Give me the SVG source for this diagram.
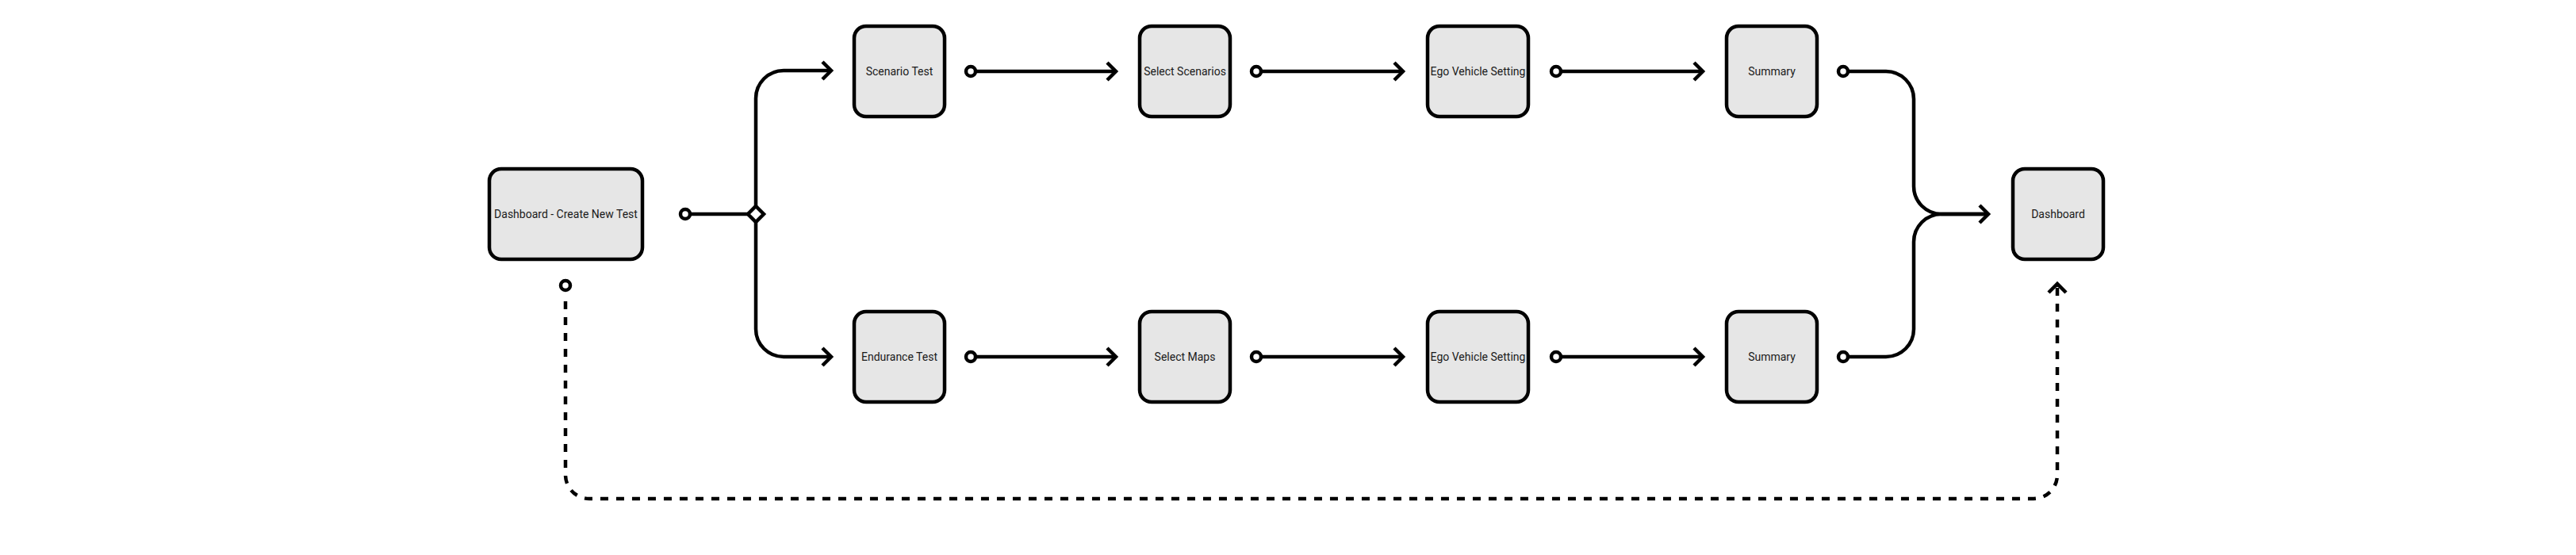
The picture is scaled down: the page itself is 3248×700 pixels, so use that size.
<svg xmlns="http://www.w3.org/2000/svg" width="3248" height="700" viewBox="0 0 3248 700">
<style>
.node rect{fill:#e6e6e6;stroke:#000;stroke-width:4.5}
.node text{font-family:Roboto,"Liberation Sans",sans-serif;font-size:14px;fill:#1a1a1a;text-anchor:middle;dominant-baseline:central}
.edge{fill:none;stroke:#000;stroke-width:4.5}
.dash{stroke-dasharray:10 10}
</style>
<defs>
<marker id="arrow" markerUnits="userSpaceOnUse" viewBox="-16 -16 20 32" markerWidth="20" markerHeight="32" refX="0" refY="0" orient="auto" overflow="visible">
<path d="M-11,-11 L0,0 L-11,11" fill="none" stroke="#000" stroke-width="4.5" stroke-linejoin="miter"/>
</marker>
<marker id="dot" markerUnits="userSpaceOnUse" viewBox="-10 -10 20 20" markerWidth="20" markerHeight="20" refX="0" refY="0" orient="auto" overflow="visible">
<circle r="6" fill="#fff" stroke="#000" stroke-width="4.5"/>
</marker>
</defs>
<g id="connectors">
<path class="edge" d="M864,270 H944" marker-start="url(#dot)"/>
<path class="edge" d="M953,270 V124 A35,35 0 0 1 988,89 H1048" marker-end="url(#arrow)"/>
<path class="edge" d="M953,270 V415 A35,35 0 0 0 988,450 H1048" marker-end="url(#arrow)"/>
<path d="M953,260 L963,270 L953,280 L943,270 Z" fill="#fff" stroke="#000" stroke-width="4.5"/>
<path class="edge" d="M1224,90 H1407" marker-start="url(#dot)" marker-end="url(#arrow)"/>
<path class="edge" d="M1584,90 H1769" marker-start="url(#dot)" marker-end="url(#arrow)"/>
<path class="edge" d="M1962,90 H2147" marker-start="url(#dot)" marker-end="url(#arrow)"/>
<path class="edge" d="M1224,450 H1407" marker-start="url(#dot)" marker-end="url(#arrow)"/>
<path class="edge" d="M1584,450 H1769" marker-start="url(#dot)" marker-end="url(#arrow)"/>
<path class="edge" d="M1962,450 H2147" marker-start="url(#dot)" marker-end="url(#arrow)"/>
<path class="edge" d="M2324,90 H2378 A35,35 0 0 1 2413,125 V235 A35,35 0 0 0 2448,270 H2507" marker-start="url(#dot)" marker-end="url(#arrow)"/>
<path class="edge" d="M2324,450 H2378 A35,35 0 0 0 2413,415 V305 A35,35 0 0 1 2448,270 H2507" marker-start="url(#dot)"/>
<path class="edge dash" d="M713,380 V599 A30,30 0 0 0 743,629 H2564 A30,30 0 0 0 2594,599 V358"/>
<path class="edge" d="M2594,362 L2594,358" marker-end="url(#arrow)"/>
<circle cx="713" cy="360" r="6" fill="#fff" stroke="#000" stroke-width="4.5"/>
</g>
<g id="create" class="node"><rect x="617" y="213" width="193" height="114" rx="15"/><text x="713.5" y="270">Dashboard - Create New Test</text></g>
<g id="scenario-test" class="node"><rect x="1077" y="33" width="114" height="114" rx="15"/><text x="1134" y="90">Scenario Test</text></g>
<g id="select-scenarios" class="node"><rect x="1437" y="33" width="114" height="114" rx="15"/><text x="1494" y="90">Select Scenarios</text></g>
<g id="ego-top" class="node"><rect x="1800" y="33" width="127" height="114" rx="15"/><text x="1863.5" y="90">Ego Vehicle Setting</text></g>
<g id="summary-top" class="node"><rect x="2177" y="33" width="114" height="114" rx="15"/><text x="2234" y="90">Summary</text></g>
<g id="endurance-test" class="node"><rect x="1077" y="393" width="114" height="114" rx="15"/><text x="1134" y="450">Endurance Test</text></g>
<g id="select-maps" class="node"><rect x="1437" y="393" width="114" height="114" rx="15"/><text x="1494" y="450">Select Maps</text></g>
<g id="ego-bottom" class="node"><rect x="1800" y="393" width="127" height="114" rx="15"/><text x="1863.5" y="450">Ego Vehicle Setting</text></g>
<g id="summary-bottom" class="node"><rect x="2177" y="393" width="114" height="114" rx="15"/><text x="2234" y="450">Summary</text></g>
<g id="dashboard" class="node"><rect x="2538" y="213" width="114" height="114" rx="15"/><text x="2595" y="270">Dashboard</text></g>
</svg>
